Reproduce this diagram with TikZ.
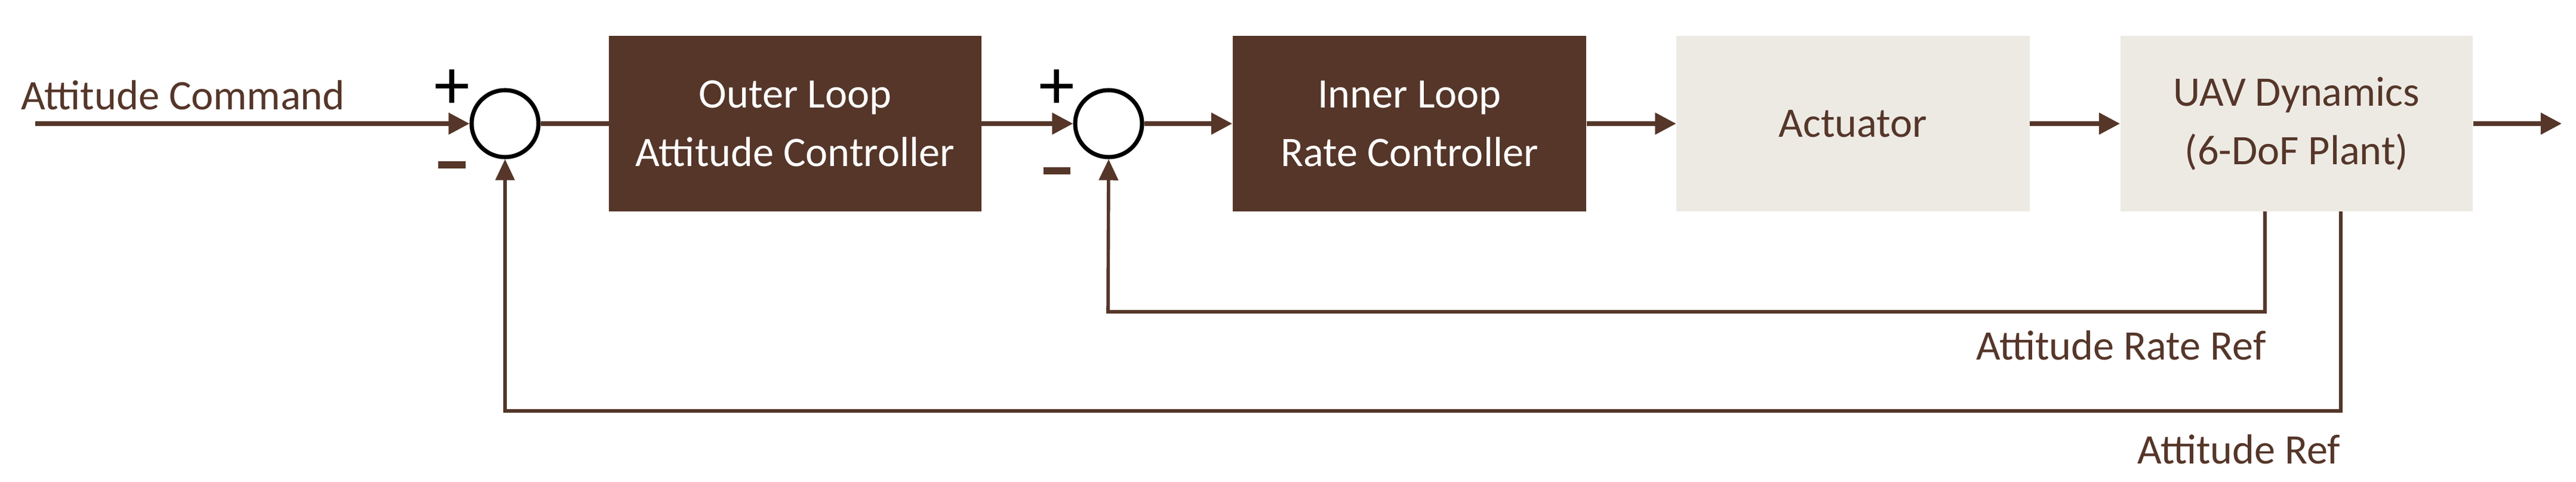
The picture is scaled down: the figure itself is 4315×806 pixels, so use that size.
\documentclass[tikz,border=0pt]{standalone}
\usepackage{fontspec}
\setmainfont{Carlito}
\usetikzlibrary{arrows.meta}
\definecolor{brn}{HTML}{553629}
\definecolor{lgt}{HTML}{EDEAE4}
\begin{document}
\begin{tikzpicture}[x=0.01cm,y=-0.01cm,
  dark/.style={fill=brn,draw=none,text=white,align=center,font=\fontsize{20}{28}\selectfont,inner sep=0},
  light/.style={fill=lgt,draw=none,text=brn,align=center,font=\fontsize{20}{28}\selectfont,inner sep=0},
  sum/.style={circle,draw=black,line width=2pt,minimum size=1.12cm,inner sep=0},
  lbl/.style={text=brn,font=\fontsize{20}{24}\selectfont,inner sep=0},
  conn/.style={draw=brn,line width=2pt,-{Triangle[length=10pt,width=10pt]}},
  fb/.style={draw=brn,line width=1.6pt,-{Triangle[length=10pt,width=9pt]}},
  plus/.style={font=\fontsize{34}{34}\selectfont,inner sep=0},
  minus/.style={fill=brn,minimum width=0.45cm,minimum height=0.12cm,inner sep=0}]
\useasboundingbox (0,0) rectangle (4315,806);
\node[dark,minimum width=6.23cm,minimum height=2.93cm] (outer) at (1332,207) {Outer Loop\\Attitude Controller};
\node[dark,minimum width=5.92cm,minimum height=2.93cm] (inner) at (2361,207) {Inner Loop\\Rate Controller};
\node[light,minimum width=5.91cm,minimum height=2.93cm] (act) at (3104,207) {Actuator};
\node[light,minimum width=5.90cm,minimum height=2.93cm] (uav) at (3847,207) {UAV Dynamics\\(6-DoF Plant)};
\node[sum] (s1) at (846,207) {};
\node[sum] (s2) at (1857,207) {};
\coordinate (in) at (59,207);
\coordinate (out) at (4291,207);
\node[lbl,anchor=base west] (cmd) at (35,183) {Attitude Command};
\node[plus] (p1) at (757,150) {+};
\node[minus] (m1) at (757,276) {};
\node[plus] (p2) at (1770,150) {+};
\node[minus] (m2) at (1770,286) {};
\draw[conn] (in) -- (s1);
\draw[draw=brn,line width=2pt] (s1) -- (outer);
\draw[conn] (outer) -- (s2);
\draw[conn] (s2) -- (inner);
\draw[conn] (inner) -- (act);
\draw[conn] (act) -- (uav);
\draw[conn] (uav) -- (out);
\coordinate (r1) at (3794,354);
\coordinate (r2) at (3921,354);
\draw[fb] (r1) |- (1856,522) -- (s2.south);
\draw[fb] (r2) |- (846,688) -- (s1.south);
\node[lbl,anchor=base east] (rr) at (3796,602) {Attitude Rate Ref};
\node[lbl,anchor=base east] (ar) at (3921,776) {Attitude Ref};
\end{tikzpicture}
\end{document}
